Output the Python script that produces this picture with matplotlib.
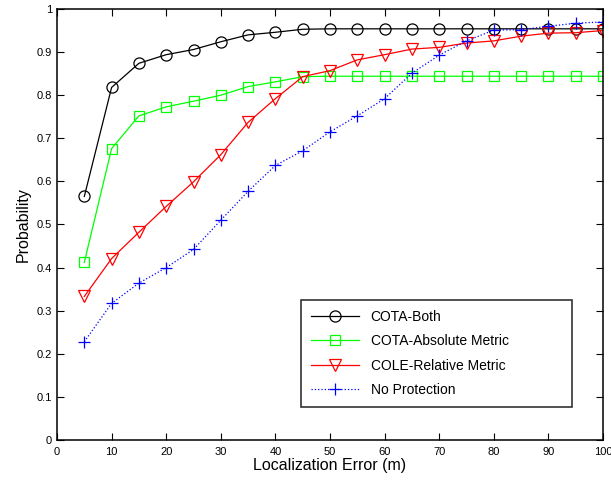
import matplotlib.pyplot as plt
import numpy as np

plt.rcParams['font.family'] = ['Liberation Sans', 'DejaVu Sans']

err = [5, 10, 15, 20, 25, 30, 35, 40, 45, 50, 55, 60, 65, 70, 75, 80, 85, 90, 95, 100]
cota_both = [0.565, 0.818, 0.874, 0.894, 0.906, 0.924, 0.940, 0.946, 0.953, 0.954,
             0.954, 0.954, 0.954, 0.954, 0.954, 0.954, 0.954, 0.954, 0.954, 0.954]
cota_abs = [0.412, 0.676, 0.752, 0.773, 0.786, 0.800, 0.820, 0.831, 0.843, 0.844,
            0.844, 0.844, 0.844, 0.844, 0.844, 0.844, 0.844, 0.844, 0.844, 0.844]
cole_rel = [0.333, 0.421, 0.482, 0.542, 0.599, 0.662, 0.737, 0.792, 0.843, 0.857,
            0.882, 0.894, 0.907, 0.911, 0.921, 0.926, 0.937, 0.944, 0.945, 0.950]
no_prot = [0.228, 0.317, 0.364, 0.400, 0.442, 0.510, 0.577, 0.637, 0.671, 0.715,
           0.752, 0.792, 0.851, 0.893, 0.926, 0.951, 0.952, 0.960, 0.967, 0.970]

fig = plt.figure(figsize=(6.11, 4.82), dpi=100)
ax = fig.add_axes([57/611, 42/482, 546/611, 431/482])

ax.plot(err, cota_both, color='black', lw=0.9, marker='o', ms=8, mfc='none', mew=0.9,
        label='COTA-Both')
ax.plot(err, cota_abs, color='#00ff00', lw=0.9, marker='s', ms=7, mfc='none', mew=0.9,
        label='COTA-Absolute Metric')
ax.plot(err, cole_rel, color='red', lw=0.9, marker='v', ms=9, mfc='none', mew=0.9,
        label='COLE-Relative Metric')
ax.plot(err, no_prot, color='blue', lw=0.9, ls=':', marker='+', ms=9, mew=0.9,
        label='No Protection')

ax.set_xlim(0, 100)
ax.set_ylim(0, 1)
ax.set_xticks(np.arange(0, 101, 10))
ax.set_yticks(np.arange(0, 1.01, 0.1))
ax.set_yticklabels(['0', '0.1', '0.2', '0.3', '0.4', '0.5', '0.6', '0.7', '0.8', '0.9', '1'])
ax.tick_params(direction='in', top=True, right=True, labelsize=8, length=5, width=0.8)
ax.tick_params(axis='x', pad=5)
for s in ax.spines.values():
    s.set_linewidth(1.1)

ax.set_xlabel('Localization Error (m)', fontsize=11.5, labelpad=1)
ax.set_ylabel('Probability', fontsize=11.5, labelpad=4)

leg = ax.legend(loc='lower left', bbox_to_anchor=(0.447, 0.077, 0.496, 0.252), mode='expand',
                fontsize=10, fancybox=False, edgecolor='black', handlelength=3.5,
                borderpad=0.7, labelspacing=0.75, borderaxespad=0)
leg.get_frame().set_linewidth(1.2)

fig.savefig('out.png', dpi=100)
